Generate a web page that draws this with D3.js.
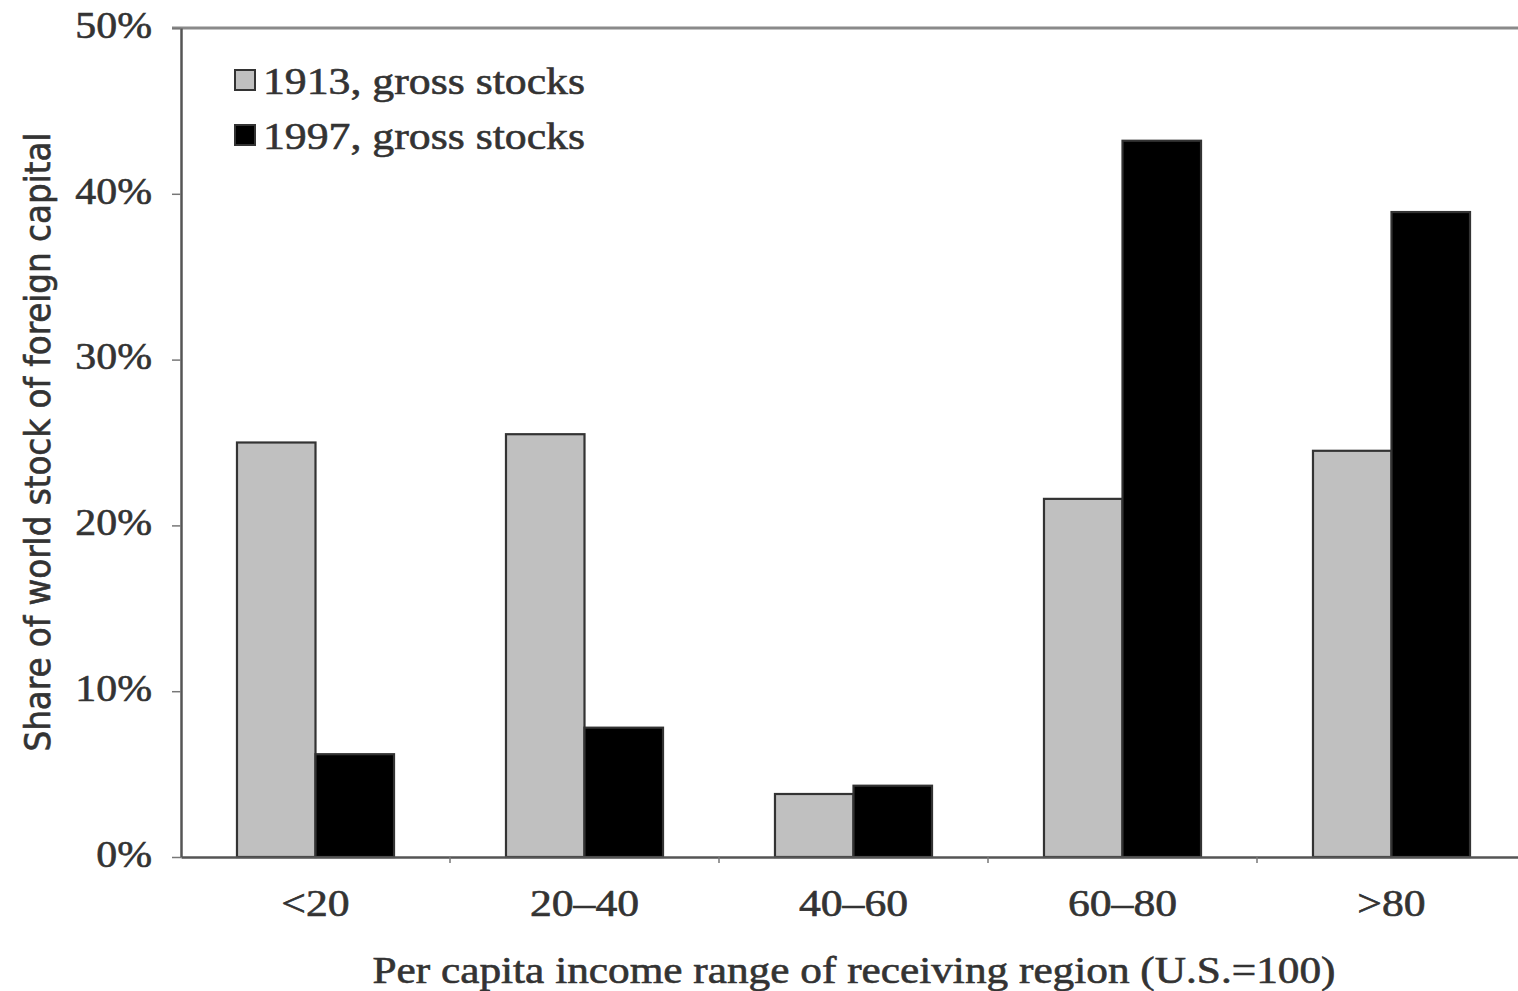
<!DOCTYPE html>
<html>
<head>
<meta charset="utf-8">
<script src="https://cdn.jsdelivr.net/npm/d3@7"></script>
<style>
  html, body { margin: 0; padding: 0; background: #fff; overflow: hidden; }
  svg { display: block; }
</style>
</head>
<body>
<svg id="chart" width="1518" height="991"></svg>
<script>
const categories = ["<20", "20\u201340", "40\u201360", "60\u201380", ">80"];
const seriesNames = ["1913, gross stocks", "1997, gross stocks"];
const values1913 = [25.0, 25.5, 3.8, 21.6, 24.5];
const values1997 = [6.2, 7.8, 4.3, 43.2, 38.9];
const yTicks = [0, 10, 20, 30, 40, 50];
const yTitle = "Share of world stock of foreign capital";
const xTitle = "Per capita income range of receiving region (U.S.=100)";

(function () {
const colors = ["#c0c0c0", "#000000"];
const serif = "'Liberation Serif', 'Times New Roman', serif";
const narrow = "'Liberation Sans Narrow', 'DejaVu Sans Condensed', 'Liberation Sans', sans-serif";
const textColor = "#333";

const svg = d3.select("#chart");
const mLeft = 181, mRight = 1526, mTop = 28, mBottom = 857;

function widen(sel, factor) {
  sel.each(function () {
    const w = this.getComputedTextLength();
    d3.select(this).attr("textLength", w * factor).attr("lengthAdjust", "spacingAndGlyphs");
  });
}
function heavy(sel) {
  sel.attr("stroke", textColor).attr("stroke-width", 0.6).attr("fill", textColor);
}

const x = d3.scaleBand().domain(categories).range([mLeft, mRight]).paddingInner(0).paddingOuter(0);
const xInner = d3.scaleBand().domain([0, 1]).range([0, x.bandwidth()]).paddingInner(0).paddingOuter(0.713);
const y = d3.scaleLinear().domain([0, 50]).range([mBottom, mTop]);

// top border line
svg.append("line").attr("x1", 172).attr("x2", 1518).attr("y1", y(50)).attr("y2", y(50))
  .attr("stroke", "#8a8a8a").attr("stroke-width", 3);

// bars
const data = categories.map((c, i) => ({ c, v: [values1913[i], values1997[i]] }));
const groups = svg.append("g").selectAll("g").data(data).join("g")
  .attr("transform", d => `translate(${x(d.c)},0)`);
groups.selectAll("rect").data(d => d.v.map((v, k) => ({ v, k }))).join("rect")
  .attr("x", d => xInner(d.k))
  .attr("width", xInner.bandwidth())
  .attr("y", d => y(d.v))
  .attr("height", d => y(0) - y(d.v))
  .attr("fill", d => colors[d.k])
  .attr("stroke", "#333")
  .attr("stroke-width", 2.2);

// y axis
const yAxis = svg.append("g").attr("transform", `translate(${mLeft},0)`)
  .call(d3.axisLeft(y).tickValues(yTicks).tickFormat(d => d + "%").tickSize(9).tickSizeOuter(0).tickPadding(20));
yAxis.select(".domain").attr("stroke", "#555").attr("stroke-width", 2.5);
yAxis.selectAll(".tick line").attr("stroke", "#777").attr("stroke-width", 1.5);
yAxis.selectAll(".tick text").attr("font-family", serif).attr("font-size", 37).attr("dy", "0.25em").call(heavy).call(widen, 1.13);

// x axis
const xAxis = svg.append("g").attr("transform", `translate(0,${mBottom})`)
  .call(d3.axisBottom(x).tickSize(0).tickPadding(33));
xAxis.select(".domain").attr("stroke", "#555").attr("stroke-width", 2.5);
xAxis.selectAll(".tick text").attr("font-family", serif).attr("font-size", 37).call(heavy).call(widen, 1.18);
// boundary ticks between categories
svg.append("g").selectAll("line").data(categories.slice(1)).join("line")
  .attr("x1", d => x(d)).attr("x2", d => x(d))
  .attr("y1", mBottom).attr("y2", mBottom + 6)
  .attr("stroke", "#777").attr("stroke-width", 1.5);

// axis titles
svg.append("text").attr("x", 854).attr("y", 983).attr("text-anchor", "middle")
  .attr("font-family", serif).attr("font-size", 37).call(heavy)
  .attr("textLength", 963).attr("lengthAdjust", "spacingAndGlyphs").text(xTitle);
svg.append("text").attr("transform", "translate(50,442) rotate(-90)").attr("text-anchor", "middle")
  .attr("font-family", narrow).attr("font-size", 35).call(heavy)
  .attr("textLength", 619).attr("lengthAdjust", "spacingAndGlyphs").text(yTitle);

// legend
const legend = svg.append("g").selectAll("g").data(seriesNames).join("g")
  .attr("transform", (d, i) => `translate(235,${70 + i * 55})`);
legend.append("rect").attr("width", 20).attr("height", 20)
  .attr("fill", (d, i) => colors[i]).attr("stroke", "#333").attr("stroke-width", 2);
legend.append("text").attr("x", 28).attr("y", 24)
  .attr("font-family", serif).attr("font-size", 38).call(heavy)
  .attr("textLength", 322).attr("lengthAdjust", "spacingAndGlyphs").text(d => d);
})();
</script>
</body>
</html>
